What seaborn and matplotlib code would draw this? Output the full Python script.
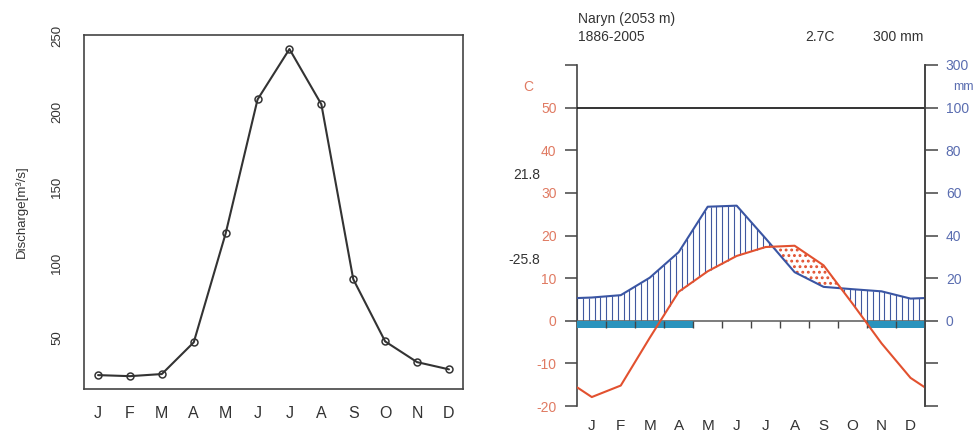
import numpy as np
import pandas as pd
import matplotlib
matplotlib.use("Agg")
import matplotlib.pyplot as plt
import seaborn as sns

# ---------------- data ----------------
months = ["J", "F", "M", "A", "M", "J", "J", "A", "S", "O", "N", "D"]
discharge = [25.5, 24.8, 26.2, 47.2, 119.3, 208.0, 241.4, 204.8, 89.0, 47.8, 34.1, 29.3]
discharge_ticks = [50, 100, 150, 200, 250]

temp_c = [-17.9, -15.2, -4.0, 6.8, 11.6, 15.2, 17.3, 17.6, 13.0, 4.0, -5.3, -13.4]
precip_mm = [10.9, 12.0, 20.2, 32.2, 53.5, 54.0, 38.6, 22.8, 15.9, 14.8, 13.8, 10.4]
frost_months = [1, 1, 1, 1, 0, 0, 0, 0, 0, 0, 1, 1]

temp_ticks = [-20, -10, 0, 10, 20, 30, 40, 50, 60]
temp_tick_labels = ["-20", "-10", "0", "10", "20", "30", "40", "50", ""]
precip_tick_labels = ["", "", "0", "20", "40", "60", "80", "100", "300"]

station = "Naryn (2053 m)"
period = "1886-2005"
annual_temp = "2.7C"
annual_precip = "300 mm"
abs_max_label = "21.8"
abs_min_label = "-25.8"

# ---------------- style ----------------
sns.set_style("white")
plt.rcParams["font.family"] = ["Liberation Sans", "DejaVu Sans"]
plt.rcParams["hatch.linewidth"] = 1.3

W, H = 979, 433
fig = plt.figure(figsize=(W / 100, H / 100), dpi=100)

AX_COL = "#444444"
TXT_COL = "#333333"
RED = "#e2512f"
RED_TXT = "#e07a62"
BLUE = "#3a55a3"
BLUE_H = "#40589f"
BLUE_TXT = "#5a6db0"
FROST = "#2a93bd"

# ---------------- left panel: discharge ----------------
ax1 = fig.add_axes([84 / W, 1 - 389 / H, (463 - 84) / W, (389 - 35) / H])
df = pd.DataFrame({"m": np.arange(1, 13), "q": discharge})
sns.lineplot(data=df, x="m", y="q", ax=ax1, color="#333333", lw=1.5,
             marker="o", markersize=5, markerfacecolor="none",
             markeredgecolor="#333333", markeredgewidth=1.1)
ax1.set_xlim(0.56, 12.44)
ax1.set_ylim(16.3, 250.7)
ax1.set_xticks(np.arange(1, 13))
ax1.set_xticklabels(months, fontsize=11.5, color=TXT_COL)
ax1.set_yticks(discharge_ticks)
ax1.set_yticklabels([str(t) for t in discharge_ticks], rotation=90,
                    va="center", fontsize=9.5, color=TXT_COL)
ax1.set_xlabel("")
ax1.set_ylabel("Discharge[m\u00b3/s]", fontsize=9.5, color=TXT_COL, labelpad=17)
ax1.tick_params(axis="both", direction="out", length=7, width=1.1,
                color=AX_COL, pad=5)
ax1.tick_params(axis="y", pad=8)
for s in ax1.spines.values():
    s.set_visible(True)
    s.set_color(AX_COL)
    s.set_linewidth(1.2)

# ---------------- right panel: Walter-Lieth ----------------
x0p, x1p = 577.3, 925.0
ytop, ybot = 65.0, 406.0
ax2 = fig.add_axes([x0p / W, 1 - ybot / H, (x1p - x0p) / W, (ybot - ytop) / H])
ax2.set_xlim(0, 12)
ax2.set_ylim(-20, 60)

centers = np.arange(12) + 0.5
T = np.array(temp_c)
P = np.array(precip_mm)
Ps = np.where(P <= 100, P / 2.0, 50 + (P - 100) / 20.0)

xc = np.concatenate([[0.0], centers, [12.0]])
Tc = np.concatenate([[(T[0] + T[-1]) / 2], T, [(T[0] + T[-1]) / 2]])
Pc = np.concatenate([[(Ps[0] + Ps[-1]) / 2], Ps, [(Ps[0] + Ps[-1]) / 2]])

# humid hatching (vertical lines)
xi = np.arange(0, 12.0001, 0.2)
Ti = np.interp(xi, xc, Tc)
Pi = np.interp(xi, xc, Pc)
hum = Pi > Ti
ax2.vlines(xi[hum], np.maximum(Ti[hum], 0), Pi[hum], color=BLUE_H, lw=0.8, zorder=2)

# dry area (dots)
xf = np.linspace(0, 12, 1201)
Tf = np.interp(xf, xc, Tc)
Pf = np.interp(xf, xc, Pc)
ax2.fill_between(xf, Pf, Tf, where=Tf > Pf, interpolate=True, facecolor="none",
                 edgecolor=RED, hatch="...", linewidth=0, zorder=2)

# reference lines
ax2.axhline(50, color="#111111", lw=1.2, zorder=3)
ax2.axhline(0, color="#666666", lw=1.2, zorder=3)

# frost bars
fm = np.array(frost_months, dtype=bool)
ax2.bar(centers[fm], -1.8, bottom=0, width=1.0, color=FROST, edgecolor="none", zorder=3)
ax2.vlines(np.arange(1, 12), -1.8, 0, color="#444444", lw=1.0, zorder=4)

# curves
dcurve = pd.DataFrame({"x": xc, "T": Tc, "P": Pc})
sns.lineplot(data=dcurve, x="x", y="P", ax=ax2, color=BLUE, lw=1.5, zorder=5)
sns.lineplot(data=dcurve, x="x", y="T", ax=ax2, color=RED, lw=1.5, zorder=6)

ax2.set_xlabel("")
ax2.set_ylabel("")
ax2.set_xticks(centers)
ax2.set_xticklabels(months, fontsize=11, color=TXT_COL)
ax2.tick_params(axis="x", length=0, pad=9)
ax2.set_yticks(temp_ticks)
ax2.set_yticklabels(temp_tick_labels, fontsize=10, color=RED_TXT)
ax2.tick_params(axis="y", direction="out", length=9, width=1.1, color=AX_COL, pad=6)
for k in ["top", "bottom"]:
    ax2.spines[k].set_visible(False)
for k in ["left", "right"]:
    ax2.spines[k].set_visible(True)
    ax2.spines[k].set_color(AX_COL)
    ax2.spines[k].set_linewidth(1.2)

axr = ax2.twinx()
axr.set_ylim(-20, 60)
axr.set_yticks(temp_ticks)
axr.set_yticklabels(precip_tick_labels, fontsize=10, color=BLUE_TXT)
axr.tick_params(axis="y", direction="out", length=9, width=1.1, color=AX_COL, pad=6)
for k in ["top", "bottom", "left"]:
    axr.spines[k].set_visible(False)
axr.spines["right"].set_color(AX_COL)
axr.spines["right"].set_linewidth(1.2)

# side annotations
def fx(px):
    return px / W

def fy(py):
    return 1 - py / H

fig.text(fx(528), fy(87), "C", color=RED_TXT, fontsize=10, ha="center", va="center")
fig.text(fx(963), fy(87), "mm", color=BLUE_TXT, fontsize=9, ha="center", va="center")
fig.text(fx(540), fy(175), abs_max_label, color=TXT_COL, fontsize=10, ha="right", va="center")
fig.text(fx(540), fy(260), abs_min_label, color=TXT_COL, fontsize=10, ha="right", va="center")

fig.text(fx(578), fy(19), station, color=TXT_COL, fontsize=10, ha="left", va="center")
fig.text(fx(578), fy(37), period, color=TXT_COL, fontsize=10, ha="left", va="center")
fig.text(fx(835), fy(37), annual_temp, color=TXT_COL, fontsize=10, ha="right", va="center")
fig.text(fx(923), fy(37), annual_precip, color=TXT_COL, fontsize=10, ha="right", va="center")

fig.savefig("out.png", dpi=100)
